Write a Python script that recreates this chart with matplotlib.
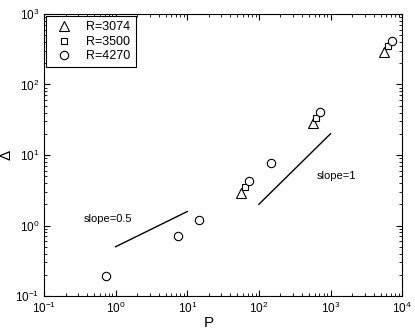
import matplotlib
matplotlib.use("Agg")
from matplotlib import pyplot as plt

plt.rcParams['font.family'] = ['Liberation Sans', 'DejaVu Sans']

# R=3074
triX = [57, 577, 5600]
triY = [2.85, 28.5, 292]
# R=3500
sqX = [63, 630, 6300]
sqY = [3.55, 34, 350]
# R=4270
cirX = [0.73, 7.4, 14.6, 73, 146, 716, 7180]
cirY = [0.19, 0.71, 1.2, 4.27, 7.6, 40.5, 418]

# reference slopes
s05X = [1, 10]
s05Y = [0.5, 1.58]
s1X = [100, 1000]
s1Y = [2, 20]

fig = plt.figure(figsize=(4.15, 3.33), dpi=100)
ax = fig.add_axes([0.106, 0.111, 0.863, 0.847])

ax.plot(triX, triY, linestyle='none', marker='^', ms=7, mfc='white', mec='black', mew=0.8, label="R=3074")
ax.plot(sqX, sqY, linestyle='none', marker='s', ms=4.5, mfc='white', mec='black', mew=0.8, label="R=3500")
ax.plot(cirX, cirY, linestyle='none', marker='o', ms=6, mfc='white', mec='black', mew=0.8, label="R=4270")
ax.plot(s05X, s05Y, color='black', lw=1)
ax.plot(s1X, s1Y, color='black', lw=1)

ax.text(0.36, 1.12, "slope=0.5", fontsize=8)
ax.text(650, 4.5, "slope=1", fontsize=8)

ax.set_xscale('log')
ax.set_yscale('log')
ax.set_xlim(1e-1, 1e4)
ax.set_ylim(1e-1, 1e3)
ax.tick_params(which='both', direction='in', top=True, right=True, labelsize=8.5)
ax.tick_params(which='major', length=4)
ax.tick_params(which='minor', length=2)
ax.set_xlabel("P", fontsize=11)
ax.set_ylabel("Δ", fontsize=11)
ax.xaxis.set_label_coords(0.46, -0.07)
ax.yaxis.set_label_coords(-0.085, 0.5)

leg = ax.legend(loc='upper left', fontsize=9, fancybox=False, edgecolor='black',
                framealpha=1, borderaxespad=0.2, handletextpad=0.8, labelspacing=0.2)
leg.get_frame().set_linewidth(0.8)

plt.savefig("out.png", dpi=100)
